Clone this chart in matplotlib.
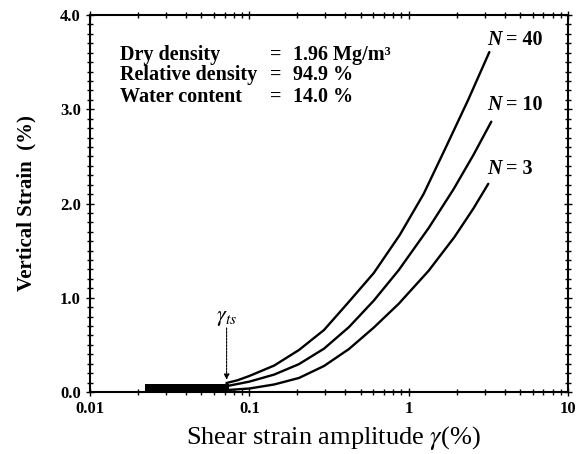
import matplotlib
matplotlib.use("Agg")
import matplotlib.pyplot as plt
from matplotlib.ticker import FixedLocator, MultipleLocator, LogLocator, NullFormatter, FixedFormatter

plt.rcParams['font.family'] = ['Liberation Serif', 'DejaVu Serif']
plt.rcParams['mathtext.fontset'] = 'stix'

# Data
gamma_40 = [0.0718, 0.0841, 0.1, 0.1433, 0.205, 0.2943, 0.422, 0.6043, 0.879, 1.241, 1.727, 2.371, 3.21]
strain_40 = [0.095, 0.124, 0.170, 0.281, 0.446, 0.658, 0.958, 1.263, 1.666, 2.101, 2.610, 3.105, 3.607]

gamma_10 = [0.0729, 0.1, 0.1433, 0.205, 0.2943, 0.422, 0.6043, 0.866, 1.334, 1.911, 2.549, 3.30]
strain_10 = [0.064, 0.110, 0.185, 0.296, 0.460, 0.689, 0.970, 1.293, 1.739, 2.150, 2.515, 2.868]

gamma_3 = [0.0729, 0.1, 0.1433, 0.205, 0.2943, 0.422, 0.6043, 0.866, 1.334, 1.939, 2.549, 3.16]
strain_3 = [0.021, 0.037, 0.080, 0.149, 0.276, 0.456, 0.684, 0.936, 1.286, 1.645, 1.947, 2.209]

band_gamma = [0.022, 0.075]
band_low = 0.0
band_high = 0.09

gamma_ts = 0.072

x_ticks = [0.01, 0.1, 1, 10]
x_labels = ["0.01", "0.1", "1", "10"]
y_ticks = [0.0, 1.0, 2.0, 3.0, 4.0]
y_labels = ["0.0", "1.0", "2.0", "3.0", "4.0"]

info_names = ["Dry density", "Relative density", "Water content"]
info_values = ["1.96 Mg/m\u00b3", "94.9 %", "14.0 %"]

fig = plt.figure(figsize=(5.78, 4.54), dpi=100)
ax = fig.add_axes([90/578, 1-392/454, 478/578, 377/454])

ax.set_xscale('log')
ax.set_xlim(0.01, 10)
ax.set_ylim(0, 4.0)

# band of small-strain data
ax.fill_between(band_gamma, [band_low]*2, [band_high]*2, color='black', linewidth=0)

for g, s in [(gamma_40, strain_40), (gamma_10, strain_10), (gamma_3, strain_3)]:
    ax.plot(g, s, color='black', lw=1.7, solid_capstyle='round', solid_joinstyle='round')

# curve labels
for g, s, n in [(3.1, 3.74, "40"), (3.1, 3.04, "10"), (3.1, 2.37, "3")]:
    ax.text(g, s, "N", style='italic', weight='bold', fontsize=14.5, va='center', ha='left')
    ax.annotate("= " + n, xy=(g, s), xytext=(14, 0), textcoords='offset points',
                fontsize=14.5, weight='bold', va='center', ha='left')

# gamma_ts arrow
ax.annotate("", xy=(gamma_ts, 0.13), xytext=(gamma_ts, 0.68),
            arrowprops=dict(arrowstyle='-|>', color='black', lw=0.8, linestyle=(0, (2, 1)),
                            mutation_scale=8, shrinkA=0, shrinkB=0))
ax.text(gamma_ts, 0.78, r"$\gamma_{ts}$", fontsize=16, ha='center', va='center')

# info text
ys = [0.894, 0.841, 0.783]
for yv, name, val in zip(ys, info_names, info_values):
    ax.text(0.063, yv, name, transform=ax.transAxes, fontsize=14.5, weight='bold', va='center')
    ax.text(0.377, yv, "=", transform=ax.transAxes, fontsize=14.5, weight='bold', va='center')
    ax.text(0.425, yv, val, transform=ax.transAxes, fontsize=14.5, weight='bold', va='center')

# ticks
ax.xaxis.set_major_locator(FixedLocator(x_ticks))
ax.xaxis.set_major_formatter(FixedFormatter(x_labels))
ax.xaxis.set_minor_locator(LogLocator(base=10, subs=range(2, 10)))
ax.xaxis.set_minor_formatter(NullFormatter())
ax.yaxis.set_major_locator(FixedLocator(y_ticks))
ax.yaxis.set_major_formatter(FixedFormatter(y_labels))
ax.yaxis.set_minor_locator(MultipleLocator(0.1))

ax.tick_params(which='both', direction='inout', top=True, right=True, width=1.0)
ax.tick_params(which='major', length=6)
ax.tick_params(which='minor', length=4)
ax.tick_params(labelsize=12)
for lab in ax.get_xticklabels() + ax.get_yticklabels():
    lab.set_fontweight('bold')

for sp in ax.spines.values():
    sp.set_linewidth(1.5)

ax.set_xlabel(r"Shear strain amplitude $\gamma$(%)", fontsize=19)
ax.xaxis.set_label_coords(0.509, -0.085)
ax.set_ylabel("Vertical Strain  (%)", fontsize=15, weight='bold')
ax.yaxis.set_label_coords(-0.113, 0.5)

fig.savefig("out.png", dpi=100)
